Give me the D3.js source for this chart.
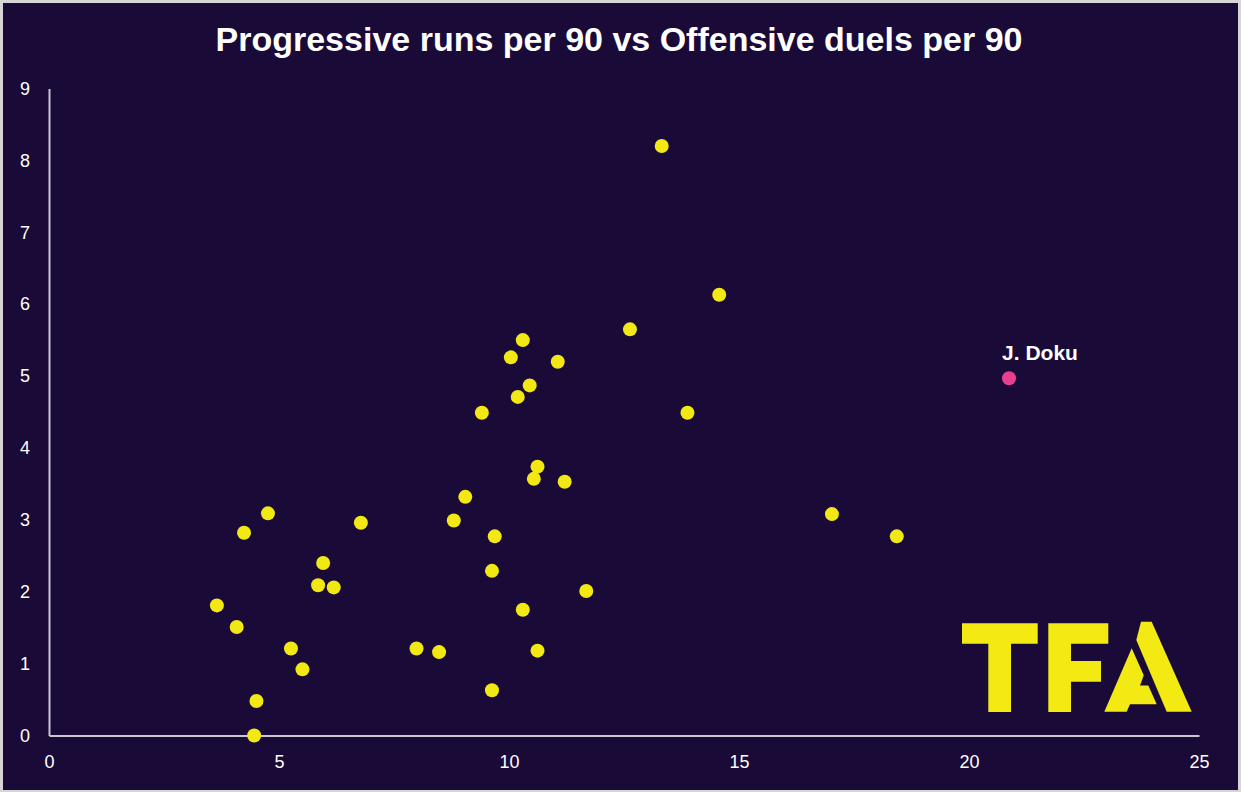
<!DOCTYPE html>
<html>
<head>
<meta charset="utf-8">
<script src="https://cdn.jsdelivr.net/npm/d3@7"></script>
<style>
html,body{margin:0;padding:0;background:#d6d6d6;}
svg{display:block;}
</style>
</head>
<body>
<svg id="chart" width="1241" height="792"></svg>
<script>
const title = "Progressive runs per 90 vs Offensive duels per 90";
const offensiveDuels = [13.32,14.57,12.63,10.30,10.04,11.06,10.45,10.19,9.41,13.88,10.62,10.54,11.21,9.05,4.76,17.02,6.78,8.80,4.24,9.69,18.43,5.96,9.63,5.85,6.19,11.68,3.65,10.30,4.08,5.26,7.99,8.48,10.62,5.51,4.51,9.63,4.46];
const progressiveRuns = [8.20,6.13,5.65,5.50,5.26,5.20,4.87,4.71,4.49,4.49,3.74,3.57,3.53,3.32,3.09,3.08,2.96,2.99,2.82,2.77,2.77,2.40,2.29,2.09,2.06,2.01,1.81,1.75,1.51,1.21,1.21,1.16,1.18,0.92,0.48,0.63,0.0];
const highlightName = ["J. Doku"];
const highlightX = [20.87];
const highlightY = [4.97];
const xTicks = [0,5,10,15,20,25];
const yTicks = [0,1,2,3,4,5,6,7,8,9];

const W = 1241, H = 792;
const svg = d3.select("#chart");
const bg = "#1a0a38";
svg.append("rect").attr("x",3).attr("y",3).attr("width",W-6).attr("height",H-5).attr("fill",bg);

const x = d3.scaleLinear().domain([0,25]).range([49,1199]);
const y = d3.scaleLinear().domain([0,9]).range([735.5,88.5]);

svg.append("text").attr("x",619).attr("y",51).attr("text-anchor","middle")
  .attr("fill","#ffffff").attr("font-family","Liberation Sans, Arial, sans-serif")
  .attr("font-weight","bold").attr("font-size",34).text(title);

// axes
const axisColor = "#c9c6cf";
const xAxis = svg.append("g").attr("transform",`translate(0,${y(0)})`)
  .call(d3.axisBottom(x).tickValues(xTicks).tickSize(0).tickPadding(20).tickFormat(d3.format("d")));
const yAxis = svg.append("g").attr("transform",`translate(${x(0)},0)`)
  .call(d3.axisLeft(y).tickValues(yTicks).tickSize(0).tickPadding(18).tickFormat(d3.format("d")));
[xAxis,yAxis].forEach(a=>{
  a.select(".domain").attr("stroke",axisColor).attr("stroke-width",2);
  a.selectAll("text").attr("fill","#ffffff").attr("font-family","Liberation Sans, Arial, sans-serif").attr("font-size",18);
});
yAxis.selectAll("text").attr("text-anchor","middle").attr("dx","-6");

// logo
const logoColor = "#f2ea12";
const logo = svg.append("g");
const polys = [
  [[962,623.3],[1037.7,623.3],[1037.7,643.7],[1011,643.7],[1011,712],[988.3,712],[988.3,643.7],[962,643.7]],
  [[1048.3,623.3],[1108.3,623.3],[1108.3,643.7],[1071,643.7],[1071,661],[1101,661],[1101,681.7],[1071,681.7],[1071,712],[1048.3,712]],
  [[1136.3,640],[1141,621.7],[1151.7,621.7],[1191.7,711.7],[1166.7,711.7]],
  [[1131.7,648.3],[1156.7,704.3],[1130,704.3],[1126.7,711.7],[1104.3,711.7]]
];
polys.forEach(p=>logo.append("polygon").attr("points",p.map(q=>q.join(",")).join(" ")).attr("fill",logoColor));
logo.append("polygon").attr("points","1145,672 1140,685.5 1152,685.5").attr("fill",bg);

// points
const data = offensiveDuels.map((d,i)=>({x:d,y:progressiveRuns[i]}));
svg.append("g").selectAll("circle").data(data).join("circle")
  .attr("cx",d=>x(d.x)).attr("cy",d=>y(d.y)).attr("r",7).attr("fill","#f2e813");

const hl = highlightName.map((n,i)=>({name:n,x:highlightX[i],y:highlightY[i]}));
svg.append("g").selectAll("circle").data(hl).join("circle")
  .attr("cx",d=>x(d.x)).attr("cy",d=>y(d.y)).attr("r",7).attr("fill","#e8408f");
svg.append("g").selectAll("text").data(hl).join("text")
  .attr("x",d=>x(d.x)+31).attr("y",d=>y(d.y)-18).attr("text-anchor","middle")
  .attr("fill","#ffffff").attr("font-family","Liberation Sans, Arial, sans-serif")
  .attr("font-weight","bold").attr("font-size",21).text(d=>d.name);
</script>
</body>
</html>
